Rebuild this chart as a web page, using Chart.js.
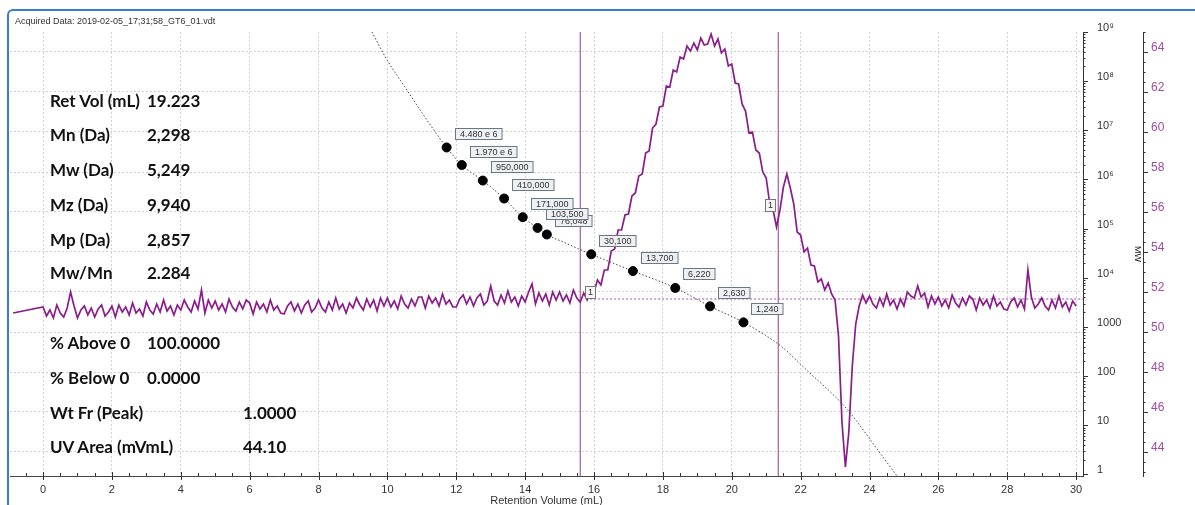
<!DOCTYPE html>
<html>
<head>
<meta charset="utf-8">
<script src="https://cdn.jsdelivr.net/npm/chart.js"></script>
<style>
  body { margin: 0; background: #fff; }
  #wrap { position: relative; width: 1195px; height: 505px; overflow: hidden; background: #fff; }
  #chartArea { position: absolute; left: 0; top: 0; }
  #frame { position: absolute; left: 7px; top: 9px; width: 1300px; height: 600px;
           border-top: 2px solid #3a7bd5; border-left: 2px solid #3a7bd5; border-top-left-radius: 6px; }
  .hdr { position: absolute; left: 15px; top: 16px; font: 9px "Liberation Sans", Arial, sans-serif; color: #333; }
  .st { position: absolute; font: 700 17px Lato, "Open Sans", sans-serif; line-height: 20px; color: #111; white-space: nowrap; }
</style>
</head>
<body>
<div id="wrap">
  <canvas id="chartArea" width="1195" height="505"></canvas>
  <div id="frame"></div>
  <div class="hdr">Acquired Data: 2019-02-05_17;31;58_GT6_01.vdt</div>

  <div class="st" style="left:50px;top:91px">Ret Vol (mL)</div><div class="st" style="left:147px;top:91px">19.223</div>
  <div class="st" style="left:50px;top:125px">Mn (Da)</div><div class="st" style="left:147px;top:125px">2,298</div>
  <div class="st" style="left:50px;top:160px">Mw (Da)</div><div class="st" style="left:147px;top:160px">5,249</div>
  <div class="st" style="left:50px;top:195px">Mz (Da)</div><div class="st" style="left:147px;top:195px">9,940</div>
  <div class="st" style="left:50px;top:230px">Mp (Da)</div><div class="st" style="left:147px;top:230px">2,857</div>
  <div class="st" style="left:50px;top:263px">Mw/Mn</div><div class="st" style="left:147px;top:263px">2.284</div>
  <div class="st" style="left:50px;top:333px">% Above 0</div><div class="st" style="left:147px;top:333px">100.0000</div>
  <div class="st" style="left:50px;top:368px">% Below 0</div><div class="st" style="left:147px;top:368px">0.0000</div>
  <div class="st" style="left:50px;top:403px">Wt Fr (Peak)</div><div class="st" style="left:243px;top:403px">1.0000</div>
  <div class="st" style="left:50px;top:437px">UV Area (mVmL)</div><div class="st" style="left:243px;top:437px">44.10</div>
</div>
<script>
// calibration standards (retention volume mL, molecular weight Da)
const stdVolumes = [11.72, 12.16, 12.77, 13.39, 13.93, 14.36, 14.63, 15.92, 17.13, 18.36, 19.37, 20.34];
const stdMw = [4480000, 1970000, 950000, 410000, 171000, 103500, 76048, 30100, 13700, 6220, 2630, 1240];
const stdLabels = ['4.480 e 6', '1.970 e 6', '950,000', '410,000', '171,000', '103,500', '76,048',
                   '30,100', '13,700', '6,220', '2,630', '1,240'];

// calibration curve
const calVolumes = [9.55, 10.0, 10.5, 11.0, 11.72, 12.16, 12.77, 13.39, 13.93, 14.36, 14.63, 15.2,
                    15.92, 17.13, 18.36, 19.37, 20.34, 21.41, 22.18, 23.15, 23.44, 24.31, 24.8];
const calMw = [1.0e9, 2.63e8, 7.76e7, 2.29e7, 4.48e6, 1.97e6, 9.5e5, 4.1e5, 1.71e5, 1.035e5, 7.6e4, 5.0e4,
               3.01e4, 1.37e4, 6220, 2630, 1240, 417, 132, 30.2, 17.8, 2.7, 0.93];

// detector trace (right axis), one row per mL
const traceVol = [
  -0.87,
  0.0, 0.1, 0.2, 0.3, 0.4, 0.5, 0.6, 0.7, 0.8, 0.9,
  1.0, 1.1, 1.2, 1.3, 1.4, 1.5, 1.6, 1.7, 1.8, 1.9,
  2.0, 2.1, 2.2, 2.3, 2.4, 2.5, 2.6, 2.7, 2.8, 2.9,
  3.0, 3.1, 3.2, 3.3, 3.4, 3.5, 3.6, 3.7, 3.8, 3.9,
  4.0, 4.1, 4.2, 4.3, 4.4, 4.5, 4.6, 4.7, 4.8, 4.9,
  5.0, 5.1, 5.2, 5.3, 5.4, 5.5, 5.6, 5.7, 5.8, 5.9,
  6.0, 6.1, 6.2, 6.3, 6.4, 6.5, 6.6, 6.7, 6.8, 6.9,
  7.0, 7.1, 7.2, 7.3, 7.4, 7.5, 7.6, 7.7, 7.8, 7.9,
  8.0, 8.1, 8.2, 8.3, 8.4, 8.5, 8.6, 8.7, 8.8, 8.9,
  9.0, 9.1, 9.2, 9.3, 9.4, 9.5, 9.6, 9.7, 9.8, 9.9,
  10.0, 10.1, 10.2, 10.3, 10.4, 10.5, 10.6, 10.7, 10.8, 10.9,
  11.0, 11.1, 11.2, 11.3, 11.4, 11.5, 11.6, 11.7, 11.8, 11.9,
  12.0, 12.1, 12.2, 12.3, 12.4, 12.5, 12.6, 12.7, 12.8, 12.9,
  13.0, 13.1, 13.2, 13.3, 13.4, 13.5, 13.6, 13.7, 13.8, 13.9,
  14.0, 14.1, 14.2, 14.3, 14.4, 14.5, 14.6, 14.7, 14.8, 14.9,
  15.0, 15.1, 15.2, 15.3, 15.4, 15.5, 15.6, 15.7, 15.8, 15.9,
  16.0, 16.1, 16.2, 16.3, 16.4, 16.5, 16.6, 16.7, 16.8, 16.9,
  17.0, 17.1, 17.2, 17.3, 17.4, 17.5, 17.6, 17.7, 17.8, 17.9,
  18.0, 18.1, 18.2, 18.3, 18.4, 18.5, 18.6, 18.7, 18.8, 18.9,
  19.0, 19.1, 19.2, 19.3, 19.4, 19.5, 19.6, 19.7, 19.8, 19.9,
  20.0, 20.1, 20.2, 20.3, 20.4, 20.5, 20.6, 20.7, 20.8, 20.9,
  21.0, 21.1, 21.2, 21.3, 21.4, 21.5, 21.6, 21.7, 21.8, 21.9,
  22.0, 22.1, 22.2, 22.3, 22.4, 22.5, 22.6, 22.7, 22.8, 22.9,
  23.0, 23.1, 23.2, 23.3, 23.4, 23.5, 23.6, 23.7, 23.8, 23.9,
  24.0, 24.1, 24.2, 24.3, 24.4, 24.5, 24.6, 24.7, 24.8, 24.9,
  25.0, 25.1, 25.2, 25.3, 25.4, 25.5, 25.6, 25.7, 25.8, 25.9,
  26.0, 26.1, 26.2, 26.3, 26.4, 26.5, 26.6, 26.7, 26.8, 26.9,
  27.0, 27.1, 27.2, 27.3, 27.4, 27.5, 27.6, 27.7, 27.8, 27.9,
  28.0, 28.1, 28.2, 28.3, 28.4, 28.5, 28.6, 28.7, 28.8, 28.9,
  29.0, 29.1, 29.2, 29.3, 29.4, 29.5, 29.6, 29.7, 29.8, 29.9,
  30.0
];
const traceMv = [
  50.95,
  51.25, 50.80, 51.10, 50.70, 51.35, 50.95, 50.75, 51.20, 52.00, 51.30,
  50.70, 51.10, 51.30, 50.85, 51.20, 50.75, 51.15, 51.35, 50.80, 51.00,
  51.30, 50.75, 51.35, 51.00, 51.25, 50.85, 51.45, 50.95, 51.15, 50.80,
  51.50, 51.10, 50.90, 51.40, 51.00, 51.60, 51.05, 51.30, 50.85, 51.35,
  51.10, 51.60, 51.25, 51.00, 51.55, 51.15, 52.10, 50.95, 51.60, 51.20,
  51.55, 51.10, 51.40, 51.00, 51.65, 51.25, 51.05, 51.50, 51.15, 51.60,
  51.45, 50.90, 51.50, 51.15, 51.40, 51.00, 51.60, 51.10, 51.30, 50.95,
  50.90, 51.30, 51.50, 51.05, 51.40, 50.95, 51.35, 51.55, 51.00, 51.20,
  51.60, 51.20, 51.00, 51.50, 51.10, 51.70, 51.15, 51.40, 50.95, 51.45,
  51.20, 51.70, 51.35, 51.10, 51.65, 51.25, 51.60, 51.05, 51.70, 51.30,
  51.70, 51.25, 51.55, 51.15, 51.80, 51.40, 51.20, 51.65, 51.30, 51.75,
  51.75, 51.20, 51.80, 51.45, 51.70, 51.30, 51.90, 51.40, 51.60, 51.25,
  51.25, 51.65, 51.85, 51.40, 51.75, 51.30, 51.70, 51.90, 51.35, 51.55,
  52.30, 51.55, 51.35, 51.85, 51.45, 52.05, 51.50, 51.75, 51.30, 51.80,
  51.50, 52.00, 52.40, 51.40, 51.95, 51.55, 51.90, 51.35, 52.00, 51.60,
  52.00, 51.55, 51.85, 51.45, 52.10, 51.70, 51.50, 51.95, 51.60, 52.05,
  52.00, 52.60, 52.35, 53.10, 53.10, 54.05, 54.15, 55.10, 55.10, 55.85,
  55.90, 56.80, 56.95, 57.80, 57.90, 58.95, 59.05, 60.20, 60.40, 61.25,
  61.30, 62.30, 62.25, 63.10, 63.00, 63.75, 63.65, 64.30, 64.05, 64.45,
  64.10, 64.70, 64.35, 64.40, 64.90, 64.30, 64.65, 63.95, 64.15, 63.30,
  63.40, 62.45, 62.40, 61.40, 61.05, 59.95, 60.00, 59.10, 58.95, 58.00,
  57.70, 56.45, 56.10, 55.25, 56.10, 57.25, 57.90, 57.20, 56.40, 55.00,
  54.85, 54.00, 54.20, 53.35, 53.30, 52.50, 52.65, 52.10, 52.45, 51.90,
  51.60, 49.80, 45.50, 43.25, 45.00, 48.30, 50.40, 51.30, 51.85, 51.45,
  51.80, 51.40, 51.20, 51.70, 51.30, 51.90, 51.35, 51.60, 51.15, 51.65,
  51.30, 52.00, 51.80, 51.70, 52.30, 51.75, 51.95, 51.25, 51.80, 51.40,
  51.75, 51.30, 51.60, 51.20, 51.85, 51.45, 51.25, 51.70, 51.35, 51.80,
  51.65, 51.10, 51.70, 51.35, 51.60, 51.20, 51.80, 51.30, 51.50, 51.15,
  51.10, 51.50, 51.70, 51.25, 51.60, 51.15, 53.10, 51.75, 51.20, 51.40,
  51.70, 51.30, 51.10, 51.60, 51.20, 51.80, 51.25, 51.50, 51.05, 51.55,
  51.30
];

// peak limits, peak markers and baseline
const cursorVol = [15.60, 21.35];
const markVol = [15.89, 21.10];
const markMv = [52.0, 56.35];
const baselineVol = [15.89, 30.2];
const baselineMv = 51.65;

// axes
const xTicks = [0, 2, 4, 6, 8, 10, 12, 14, 16, 18, 20, 22, 24, 26, 28, 30];
const mwTicks = [1, 10, 100, 1000, 1e4, 1e5, 1e6, 1e7, 1e8, 1e9];
const mvTicks = [44, 46, 48, 50, 52, 54, 56, 58, 60, 62, 64];
const sup = { 4: '\u2074', 5: '\u2075', 6: '\u2076', 7: '\u2077', 8: '\u2078', 9: '\u2079' };

const purple = '#8b1c8b';

Chart.defaults.font.family = '"Liberation Sans", Arial, sans-serif';

// tick marks, label boxes and peak markers
const decorations = {
  id: 'decorations',
  afterDatasetsDraw(chart) {
    const { ctx, chartArea: a, scales: { x, y, y2 } } = chart;
    ctx.save();
    ctx.lineWidth = 1;
    ctx.strokeStyle = '#333';
    ctx.beginPath();
    for (let k = -1; k <= 60; k++) {
      const px = Math.round(x.getPixelForValue(k / 2)) + 0.5;
      if (k % 4 === 0) { ctx.moveTo(px, a.bottom - 4); ctx.lineTo(px, a.bottom + 4); }
      else { ctx.moveTo(px, a.bottom - 3); ctx.lineTo(px, a.bottom); }
    }
    for (let e = -1; e <= 9; e++) {
      for (let m = 1; m <= 9; m++) {
        const v = m * Math.pow(10, e);
        if (v < y.min || v > y.max) continue;
        const py = Math.round(y.getPixelForValue(v)) + 0.5;
        ctx.moveTo(a.right, py);
        ctx.lineTo(a.right + (m === 1 ? 5 : 2.5), py);
      }
    }
    for (let k = 86; k <= 130; k++) {
      const py = Math.round(y2.getPixelForValue(k / 2)) + 0.5;
      ctx.moveTo(y2.left, py);
      ctx.lineTo(y2.left + (k % 4 === 0 ? 5 : 2.5), py);
    }
    ctx.stroke();

    // standard labels, last first so earlier boxes sit on top
    ctx.font = '9px "Liberation Sans", Arial, sans-serif';
    ctx.textBaseline = 'middle';
    for (let i = stdVolumes.length - 1; i >= 0; i--) {
      const px = x.getPixelForValue(stdVolumes[i]);
      const py = y.getPixelForValue(stdMw[i]);
      const w = ctx.measureText(stdLabels[i]).width + 9;
      const bx = Math.round(px + 8) + 0.5, by = Math.round(py - 19.5) + 0.5;
      ctx.fillStyle = '#eef1f4';
      ctx.fillRect(bx, by, w, 11);
      ctx.strokeStyle = '#6b7785';
      ctx.strokeRect(bx, by, w, 11);
      ctx.fillStyle = '#333';
      ctx.fillText(stdLabels[i], bx + 4.5, by + 6);
    }

    // peak markers
    for (let i = 0; i < markVol.length; i++) {
      const px = x.getPixelForValue(markVol[i]);
      const py = y2.getPixelForValue(markMv[i]);
      const bx = Math.round(px - 5) + 0.5, by = Math.round(py - 6) + 0.5;
      ctx.fillStyle = '#f6f6f6';
      ctx.fillRect(bx, by, 10, 12);
      ctx.strokeStyle = '#777';
      ctx.strokeRect(bx, by, 10, 12);
      ctx.fillStyle = '#333';
      ctx.fillText('1', bx + 2.5, by + 6.5);
    }
    ctx.restore();
  }
};

const ctx = document.getElementById('chartArea');

const datasets = [
  {
    label: 'Standards',
    data: stdVolumes.map((v, i) => ({ x: v, y: stdMw[i] })),
    yAxisID: 'y',
    showLine: false,
    pointRadius: 4.5,
    pointBackgroundColor: '#000',
    pointBorderColor: '#000',
  },
  {
    label: 'Calibration',
    data: calVolumes.map((v, i) => ({ x: v, y: calMw[i] })),
    yAxisID: 'y',
    borderColor: '#444',
    borderWidth: 1,
    borderDash: [1.5, 2],
    pointRadius: 0,
    cubicInterpolationMode: 'monotone',
  },
  {
    label: 'Trace',
    data: traceVol.map((v, i) => ({ x: v, y: traceMv[i] })),
    yAxisID: 'y2',
    borderColor: purple,
    borderWidth: 1.7,
    pointRadius: 0,
    tension: 0,
  },
  {
    label: 'Baseline',
    data: baselineVol.map(v => ({ x: v, y: baselineMv })),
    yAxisID: 'y2',
    borderColor: '#a04aa0',
    borderWidth: 1,
    borderDash: [2, 2],
    pointRadius: 0,
  },
];
for (const v of cursorVol) {
  datasets.push({
    label: 'Limit',
    data: [{ x: v, y: 42.8 }, { x: v, y: 65 }],
    yAxisID: 'y2',
    borderColor: '#9a3a9a',
    borderWidth: 1,
    pointRadius: 0,
  });
}

const chart = new Chart(ctx, {
  type: 'line',
  data: { datasets: datasets },
  options: {
    responsive: false,
    animation: false,
    layout: { padding: { left: 10, top: 32, right: 0, bottom: 0 } },
    plugins: { legend: { display: false }, tooltip: { enabled: false } },
    scales: {
      x: {
        type: 'linear',
        min: -0.96,
        max: 30.2,
        afterBuildTicks: s => { s.ticks = xTicks.map(v => ({ value: v })); },
        afterFit: s => { s.height = 29; },
        grid: { color: '#d2d2d2', drawTicks: false },
        border: { color: '#444', dash: [2, 2] },
        ticks: { color: '#333', font: { size: 11 }, padding: 7, maxRotation: 0 },
        title: { display: true, text: 'Retention Volume (mL)', color: '#333',
                 font: { size: 11 }, padding: { top: 0, bottom: -3 } },
      },
      y: {
        type: 'logarithmic',
        position: 'right',
        weight: 0,
        min: 0.93,
        max: 1e9,
        afterBuildTicks: s => { s.ticks = mwTicks.map(v => ({ value: v })); },
        afterFit: s => { s.width = 60; },
        grid: { display: false },
        border: { display: true, color: '#333' },
        ticks: {
          color: '#333',
          font: { size: 11 },
          padding: 6,
          labelOffset: -4,
          callback: v => {
            const e = Math.round(Math.log10(v));
            return e >= 4 ? '10' + sup[e] : String(v);
          },
        },
        title: { display: true, text: 'MW', color: '#222', font: { size: 9 }, padding: { top: 0, bottom: 0 } },
      },
      y2: {
        type: 'linear',
        position: 'right',
        weight: 1,
        min: 42.8,
        max: 65,
        afterBuildTicks: s => { s.ticks = mvTicks.map(v => ({ value: v })); },
        afterFit: s => { s.width = 52; },
        grid: { color: '#d2d2d2', drawTicks: false },
        border: { display: true, color: '#333', dash: [2, 2] },
        ticks: { color: '#a24aa4', font: { size: 12 }, padding: 8, labelOffset: -4 },
      },
    },
  },
  plugins: [decorations],
});
</script>
</body>
</html>
